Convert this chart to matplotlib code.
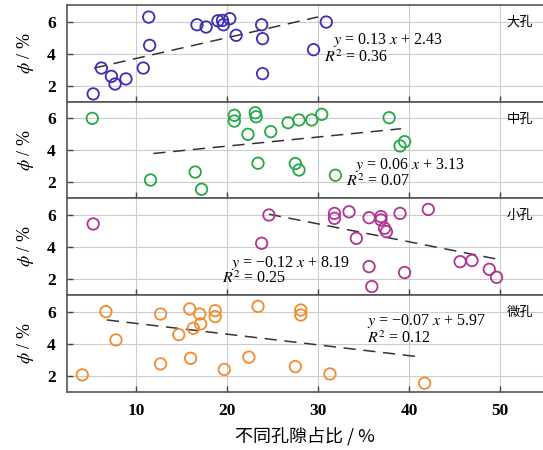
"""Porosity vs pore-type fraction, four stacked panels."""
import numpy as np
import matplotlib
matplotlib.use("Agg")
import matplotlib.pyplot as plt

plt.rcParams["font.family"] = ["Liberation Serif", "DejaVu Serif"]
plt.rcParams["mathtext.fontset"] = "stix"

# ---- data ----
big_x = [5.3, 6.2, 7.3, 7.7, 8.9, 10.8, 11.4, 11.5, 16.7, 17.7, 19.0, 19.5,
         19.6, 20.3, 21.0, 23.8, 23.9, 23.9, 29.5, 30.9]
big_y = [1.48, 3.1, 2.58, 2.1, 2.42, 3.1, 6.29, 4.52, 5.81, 5.67, 6.06, 6.08,
         5.81, 6.19, 5.15, 5.81, 4.94, 2.75, 4.25, 5.98]

mid_x = [5.2, 11.6, 16.5, 17.2, 20.8, 20.8, 22.3, 23.1, 23.2, 23.4, 24.8, 26.7,
         27.5, 27.9, 27.9, 29.3, 30.4, 31.9, 37.8, 39.0, 39.5]
mid_y = [6.0, 2.14, 2.64, 1.56, 6.19, 5.83, 5.0, 6.35, 6.1, 3.19, 5.17, 5.73,
         3.17, 2.77, 5.9, 5.9, 6.25, 2.44, 6.04, 4.27, 4.54]

small_x = [5.3, 23.8, 24.6, 31.8, 31.8, 33.4, 34.2, 35.6, 35.6, 35.9, 36.9, 36.9,
           37.3, 37.5, 39.0, 39.5, 42.1, 45.6, 46.9, 48.8, 49.6]
small_y = [5.44, 4.23, 6.0, 6.1, 5.79, 6.2, 4.54, 5.83, 2.77, 1.52, 5.9, 5.69,
           5.17, 4.96, 6.1, 2.4, 6.35, 3.08, 3.15, 2.6, 2.1]

micro_x = [4.1, 6.7, 7.8, 12.7, 12.7, 14.7, 15.9, 16.0, 16.3, 17.0, 17.1, 18.7,
           18.7, 19.7, 22.4, 23.4, 27.5, 28.1, 28.1, 31.3, 41.7]
micro_y = [2.04, 6.0, 4.23, 5.85, 2.73, 4.56, 6.17, 3.08, 4.96, 5.85, 5.23, 6.06,
           5.69, 2.38, 3.15, 6.33, 2.56, 6.1, 5.79, 2.1, 1.52]

# fitted lines as drawn (end points)
fit_x = [[5.4, 30.0], [11.9, 39.1], [24.6, 50.0], [6.8, 41.4]]
fit_y = [[3.1, 6.3], [3.8, 5.35], [6.05, 3.2], [5.48, 3.15]]

names = ["大孔", "中孔", "小孔", "微孔"]
colors = ["#3d2fb3", "#27a845", "#b03591", "#f28b2e"]
eqs = ["0.13", "0.06", "\u22120.12", "\u22120.07"]
icpts = ["2.43", "3.13", "8.19", "5.97"]
r2s = ["0.36", "0.07", "0.25", "0.12"]
eq_pos = [(31.6, 4.88), (34.05, 3.05), (20.4, 2.98), (35.4, 5.44)]
r2_pos = [(30.6, 3.73), (33.1, 2.06), (19.5, 2.0), (35.4, 4.31)]

xs = [big_x, mid_x, small_x, micro_x]
ys = [big_y, mid_y, small_y, micro_y]

fig, axes = plt.subplots(4, 1, figsize=(5.43, 4.5), dpi=100, sharex=True)
fig.subplots_adjust(left=0.123, right=1.0, top=0.989, bottom=0.13, hspace=0)

for i, ax in enumerate(axes):
    ax.scatter(xs[i], ys[i], s=68, facecolors="none", edgecolors=colors[i],
               linewidths=1.3, zorder=3)
    ax.plot(fit_x[i], fit_y[i], color="#333333", lw=1.1, dashes=(8, 5), zorder=2)
    ax.text(eq_pos[i][0], eq_pos[i][1],
            "$y$ = %s $x$ + %s" % (eqs[i], icpts[i]),
            fontsize=11.5, va="center", ha="left", zorder=4)
    ax.text(r2_pos[i][0], r2_pos[i][1], "$R^2$ = %s" % r2s[i],
            fontsize=11.5, va="center", ha="left", zorder=4)
    ax.text(50.7, 5.95, names[i], family=["Noto Sans CJK SC"], fontsize=9.5,
            va="center", ha="left")

    ax.set_xlim(2.4, 54.7)
    ax.set_ylim(1.0, 7.05)
    ax.set_yticks([2, 4, 6])
    ax.set_xticks([10, 20, 30, 40, 50])
    ax.grid(True, color="#cccccc", lw=0.8)
    ax.set_axisbelow(True)
    ax.tick_params(direction="in", length=4, width=1, color="#444444",
                   labelsize=12.5, pad=8)
    for lab in ax.get_xticklabels() + ax.get_yticklabels():
        lab.set_fontweight("bold")
    for s in ["left", "bottom", "top"]:
        ax.spines[s].set_color("#555555")
        ax.spines[s].set_linewidth(1.2)
    ax.spines["right"].set_visible(False)
    ax.set_ylabel("$\\phi$ / %", fontsize=13, labelpad=8)

axes[-1].set_xlabel("不同孔隙占比 / %", family=["Noto Sans CJK SC", "DejaVu Sans"],
                    fontsize=13, labelpad=6)

fig.savefig("out.png", dpi=100)
